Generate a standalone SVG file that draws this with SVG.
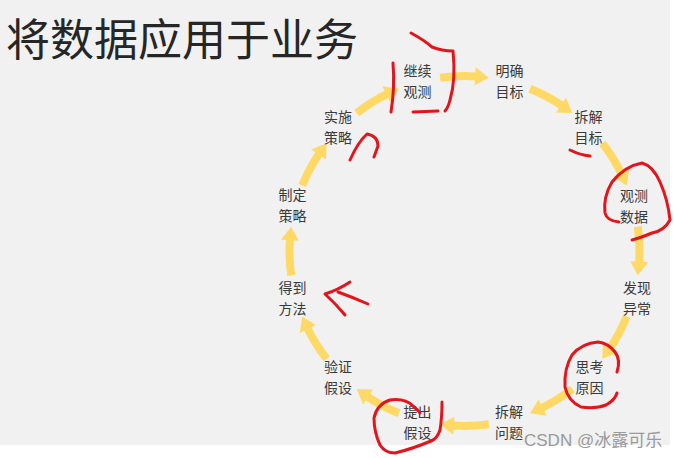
<svg xmlns="http://www.w3.org/2000/svg" width="674" height="458" viewBox="0 0 674 458">
<style>
.lbl{font-family:"Noto Sans CJK SC","Noto Sans",sans-serif;font-size:14px;fill:#3a3a3a;text-anchor:middle}
.title{font-family:"Noto Sans CJK SC","Noto Sans",sans-serif;font-size:44px;fill:#262626}
.wm{font-family:"Liberation Sans","Noto Sans CJK SC",sans-serif;font-size:17px;fill:#9a9a9a}
.ink{fill:none;stroke:#e3141b;stroke-width:3;stroke-linecap:round;stroke-linejoin:round}
.body{fill:none;stroke:#ffd966;stroke-width:8}
.head{fill:#ffd966}
</style>
<defs>
<g id="arr">
<path class="body" d="M637.80 226.64 A175 175 0 0 1 639.07 263.21"/>
<polygon class="head" points="637.80,275.36 648.15,262.23 630.19,261.13"/>
</g>
</defs>
<rect x="0" y="0" width="674" height="458" fill="#ffffff"/>
<rect x="0" y="0" width="670" height="445" fill="#f1f1f1"/>
<text class="title" x="6" y="56">将数据应用于业务</text>
<g id="connectors">
<use href="#arr" transform="rotate(-90 464.5 251)"/>
<use href="#arr" transform="rotate(-60 464.5 251)"/>
<use href="#arr" transform="rotate(-30 464.5 251)"/>
<use href="#arr"/>
<use href="#arr" transform="rotate(30 464.5 251)"/>
<use href="#arr" transform="rotate(60 464.5 251)"/>
<use href="#arr" transform="rotate(90 464.5 251)"/>
<use href="#arr" transform="rotate(120 464.5 251)"/>
<use href="#arr" transform="rotate(150 464.5 251)"/>
<use href="#arr" transform="rotate(180 464.5 251)"/>
<use href="#arr" transform="rotate(210 464.5 251)"/>
<use href="#arr" transform="rotate(240 464.5 251)"/>
</g>
<g id="n-mingque"><text class="lbl"><tspan x="509.5" y="76">明确</tspan><tspan x="509.5" y="97">目标</tspan></text></g>
<g id="n-chaijie-mubiao"><text class="lbl"><tspan x="588.5" y="121.5">拆解</tspan><tspan x="588.5" y="142.5">目标</tspan></text></g>
<g id="n-guance-shuju"><text class="lbl"><tspan x="634" y="200.5">观测</tspan><tspan x="634" y="221.5">数据</tspan></text></g>
<g id="n-faxian"><text class="lbl"><tspan x="637" y="292.5">发现</tspan><tspan x="637" y="313.5">异常</tspan></text></g>
<g id="n-sikao"><text class="lbl"><tspan x="589.5" y="371.5">思考</tspan><tspan x="589.5" y="392.5">原因</tspan></text></g>
<g id="n-chaijie-wenti"><text class="lbl"><tspan x="509" y="417">拆解</tspan><tspan x="509" y="438">问题</tspan></text></g>
<g id="n-tichu"><text class="lbl"><tspan x="417.5" y="417">提出</tspan><tspan x="417.5" y="438">假设</tspan></text></g>
<g id="n-yanzheng"><text class="lbl"><tspan x="338" y="371.5">验证</tspan><tspan x="338" y="392.5">假设</tspan></text></g>
<g id="n-dedao"><text class="lbl"><tspan x="292.5" y="292.5">得到</tspan><tspan x="292.5" y="313.5">方法</tspan></text></g>
<g id="n-zhiding"><text class="lbl"><tspan x="292.5" y="200">制定</tspan><tspan x="292.5" y="221">策略</tspan></text></g>
<g id="n-shishi"><text class="lbl"><tspan x="338" y="121.5">实施</tspan><tspan x="338" y="142.5">策略</tspan></text></g>
<g id="n-jixu"><text class="lbl"><tspan x="417.5" y="76">继续</tspan><tspan x="417.5" y="97">观测</tspan></text></g>
<g id="annotations">
<path class="ink" d="M411 33 Q424 40 432 47 Q442 51 453 51 Q456 80 450 100 Q448 108 445 111"/>
<path class="ink" d="M393 63 Q395 88 391 112"/>
<path class="ink" d="M413 112 L438 111"/>
<path class="ink" d="M350 160 Q358 142 367 134 Q378 136 378 146 L374 157"/>
<path class="ink" d="M570 150 Q580 155 590 156"/>
<path class="ink" d="M619 222 Q607 221 605 213 Q603 197 612 182 Q625 166 642 163 Q653 166 660 182 Q668 200 670 220 Q664 231 652 233 Q640 238 632 240"/>
<path class="ink" d="M350 282 Q338 290 325 294 Q336 304 345 315"/>
<path class="ink" d="M338 292 Q352 297 368 304"/>
<path class="ink" d="M617 372 Q621 360 615 352 Q608 343 598 342 Q582 343 572 355 Q564 368 565 387 Q568 401 581 407 Q596 409 606 405 Q615 400 617 393"/>
<path class="ink" d="M442 402 Q442 418 440 430 Q437 439 431 441 Q412 449 395 453 Q385 453 380 445 Q374 432 374 418 Q377 404 390 400 Q405 398 413 406 Q418 410 420 413"/>
</g>
<text class="wm" x="524" y="446">CSDN @冰露可乐</text>
</svg>
